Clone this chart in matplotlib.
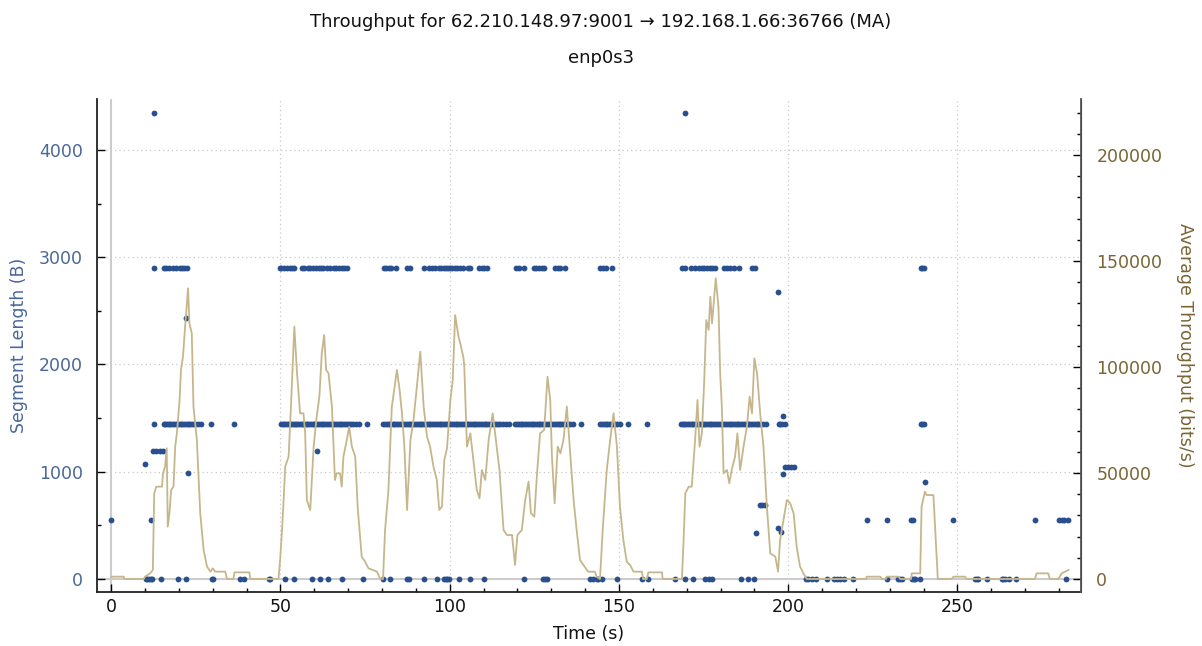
import matplotlib
matplotlib.use("Agg")
import matplotlib.pyplot as plt
from matplotlib.ticker import MultipleLocator

plt.rcParams['font.family'] = ['DejaVu Sans']

# ---------------- data ----------------
title = "Throughput for 62.210.148.97:9001 \u2192 192.168.1.66:36766 (MA)"
subtitle = "enp0s3"

# segment length points (time in s)
seg0_t = [10.2, 10.7, 11.2, 11.7, 12.1, 14.6, 19.7, 22.0, 29.7, 30.2, 38.1, 39.1,
          46.5, 46.9, 51.4, 53.9, 59.3, 61.8, 64.0, 68.1, 74.3, 80.4, 82.4, 87.3,
          88.1, 92.3, 96.2, 98.2, 98.8, 99.2, 99.9, 102.6, 106.0, 110.0, 121.8,
          127.7, 128.2, 128.6, 141.4, 142.4, 143.4, 143.9, 144.9, 149.4, 156.8,
          158.7, 166.6, 169.4, 172.0, 175.3, 176.7, 177.4, 186.1, 188.1, 190.0,
          205.2, 205.9, 206.9, 208.2, 211.4, 213.4, 214.4, 215.4, 216.4, 219.2,
          229.2, 232.3, 233.1, 233.6, 236.7, 237.1, 237.5, 238.8, 255.2, 255.7,
          256.2, 258.7, 263.1, 263.6, 264.1, 265.1, 267.2, 282.0]

seg1448_t = [12.7, 15.5, 16.0, 16.6, 17.1, 17.5, 18.0, 18.6, 19.0, 19.5, 20.1, 20.6,
             21.0, 21.5, 22.1, 22.6, 23.0, 23.6, 24.1, 24.8, 25.6, 26.4, 29.4, 36.3,
             50.2, 50.7, 51.1, 51.6, 52.2, 52.7, 53.1, 53.6, 54.2, 54.7, 55.2, 55.8,
             56.3, 56.8, 57.4, 57.9, 58.4, 58.9, 59.5, 60.0, 60.6, 61.1, 61.6, 62.2,
             62.7, 63.2, 63.8, 64.3, 64.8, 65.4, 65.9, 66.4, 67.0, 67.5, 68.0, 68.6,
             69.1, 69.6, 70.2, 70.7, 71.4, 72.3, 73.1, 75.6,
             80.4, 80.9, 81.5, 82.0, 82.5, 83.1, 83.6, 84.1, 84.7, 85.2, 85.8, 86.3,
             86.8, 87.4, 87.9, 88.4, 89.0, 89.5, 90.0, 90.6, 91.1, 91.6, 92.2, 92.7,
             93.2, 93.8, 94.3, 94.8, 95.4, 95.9, 96.4, 97.0, 97.5, 98.0, 98.6, 99.1,
             99.6, 100.2, 100.7, 101.2, 101.8, 102.3, 102.8, 103.4, 103.9, 104.4,
             105.0, 105.5, 106.0, 106.6, 107.1, 107.6, 108.2, 108.7, 109.2, 109.8,
             110.3, 110.8, 111.4, 111.9, 112.4, 113.0, 113.6, 114.3, 115.0, 115.8,
             116.7, 117.6,
             119.4, 119.9, 120.4, 121.0, 121.5, 122.0, 122.6, 123.1, 123.6, 124.2,
             124.7, 125.2, 125.8, 126.3, 126.8, 127.4, 127.9, 128.4, 129.0, 129.5,
             130.0, 130.6, 131.1, 131.6, 132.2, 132.7, 133.2, 133.8, 134.3, 134.8,
             135.6, 136.5, 138.9,
             144.5, 145.0, 145.5, 146.1, 146.6, 147.1, 147.7, 148.2, 148.8, 149.5,
             150.3, 152.8, 158.3,
             168.3, 168.8, 169.3, 169.9, 170.4, 170.9, 171.5, 172.0, 172.5, 173.1,
             173.6, 174.1, 174.7, 175.2, 175.7, 176.3, 176.8, 177.3, 177.9, 178.4,
             178.9, 179.5, 180.0, 180.5, 181.1, 181.6, 182.1, 182.7, 183.2, 183.7,
             184.3, 184.8, 185.3, 185.9, 186.4, 186.9, 187.5, 188.0, 188.5, 189.1,
             189.6, 190.1, 190.7, 191.2, 191.8, 192.5, 193.5,
             197.2, 197.7, 198.3, 199.0, 239.2, 239.6, 240.0]

seg2896_t = [12.5, 15.5, 16.2, 17.2, 18.2, 19.2, 20.2, 20.9, 21.6, 22.4,
             49.8, 50.3, 50.9, 51.9, 52.7, 53.4, 54.1, 56.3, 57.1, 58.0, 58.8,
             59.6, 60.6, 61.5, 62.0, 62.7, 63.7, 64.7, 65.7, 66.5, 67.4, 68.2,
             68.8, 69.6, 80.5, 81.2, 82.0, 82.7, 84.2, 87.4, 88.4, 92.3, 94.0,
             94.7, 95.7, 96.7, 97.5, 98.2, 98.9, 99.6, 100.1, 100.6, 101.6, 102.3,
             103.1, 103.9, 105.3, 106.1, 108.8, 109.5, 110.2, 111.0, 119.6, 120.6,
             121.8, 124.8, 125.6, 126.3, 127.2, 127.9, 131.1, 131.9, 132.7, 134.1,
             144.3, 145.3, 146.3, 147.9, 168.6, 169.6, 171.3, 172.5, 173.5, 174.5,
             175.2, 176.0, 176.8, 177.4, 178.4, 180.9, 181.9, 182.9, 183.9, 185.4,
             189.3, 190.3, 239.2, 239.6, 240.0]

seg4344_t = [12.5, 169.4]

other_t = [0.0, 10.0, 11.7, 12.3, 13.3, 14.4, 15.4, 22.1, 22.6, 60.7, 190.4,
           191.7, 192.4, 193.2, 196.9, 197.1, 197.8, 198.6, 198.6, 199.1, 199.9,
           200.7, 201.6, 223.2, 229.1, 236.2, 236.8, 240.3, 248.6, 272.9, 280.1,
           280.8, 281.6, 282.7]
other_len = [550, 1068, 550, 1190, 1190, 1190, 1190, 2430, 985, 1190, 430,
             690, 690, 690, 2680, 480, 440, 1520, 980, 1040, 1040,
             1040, 1040, 550, 550, 550, 550, 900, 550, 550, 550,
             550, 550, 550]

# moving-average throughput (bits/s)
tp_t = [0, 3.7, 3.8, 9.6, 10.0, 11.5, 12.3, 12.7, 13.3, 15.0, 15.3, 15.9, 16.4,
        16.7, 17.2, 17.7, 18.4, 18.9, 19.4, 20.2, 20.6, 21.2, 21.9, 22.7, 23.1,
        23.8, 24.3, 25.3, 26.3, 27.3, 28.3, 29.3, 30.0, 30.7, 33.7, 34.2, 36.1,
        36.4, 40.8, 41.1, 49.4, 49.9, 50.4, 50.9, 51.4, 52.4, 53.1, 54.1, 54.9,
        55.8, 56.8, 57.3, 57.8, 58.8, 59.8, 60.7, 61.5, 62.2, 62.9, 63.5, 64.2,
        65.2, 66.1, 66.6, 67.6, 68.1, 68.6, 69.6, 70.3, 71.1, 72.1, 72.8, 74.0,
        75.0, 76.0, 78.5, 79.5, 80.3, 80.9, 81.9, 82.9, 83.6, 84.4, 85.2, 85.9,
        86.6, 87.4, 88.4, 89.3, 90.1, 91.3, 92.3, 93.3, 94.2, 95.2, 96.2, 96.9,
        97.7, 98.4, 99.2, 100.2, 100.9, 101.6, 102.6, 103.3, 104.1, 104.3, 105.1,
        106.1, 107.0, 108.0, 108.8, 109.5, 110.5, 111.5, 112.7, 113.4, 114.7,
        115.9, 116.9, 118.4, 119.3, 120.0, 121.3, 122.3, 123.3, 124.0, 125.0,
        125.8, 126.7, 127.9, 128.9, 129.7, 130.2, 131.0, 131.9, 132.7, 133.6,
        134.6, 135.6, 136.6, 137.5, 138.5, 139.5, 140.9, 142.9, 143.4, 144.4,
        145.2, 146.4, 147.4, 148.4, 149.4, 150.3, 151.3, 152.3, 153.3, 154.3,
        156.8, 157.1, 158.2, 158.7, 162.7, 162.9, 168.6, 169.1, 169.6, 170.6,
        171.5, 172.5, 173.2, 173.8, 174.5, 175.2, 175.8, 176.5, 177.0, 177.5,
        178.0, 178.6, 179.4, 179.9, 180.4, 180.9, 181.9, 182.6, 183.3, 184.3,
        185.0, 185.8, 186.8, 187.8, 188.6, 189.3, 190.0, 190.8, 191.8, 192.7,
        193.7, 194.7, 196.2, 197.0, 197.6, 198.6, 199.6, 200.6, 201.6, 202.5,
        203.5, 204.5, 205.5, 223.0, 223.2, 227.2, 227.7, 228.9, 229.1, 232.6,
        233.1, 236.3, 236.5, 239.0, 239.4, 240.4, 240.9, 242.9, 244.2, 248.3,
        248.8, 252.2, 252.7, 272.9, 273.4, 276.8, 277.3, 279.8, 280.8, 281.8,
        282.8]
tp_v = [1100, 1100, 0, 0, 1100, 2670, 4250, 40400, 43550, 43550, 49850, 52990,
        61640, 24690, 30970, 41980, 43550, 62430, 68710, 84430, 98590, 104870,
        120600, 137100, 120600, 115880, 81290, 65570, 30970, 13680, 5820, 3460,
        5030, 3460, 3460, 0, 0, 3140, 3140, 0, 0, 8960, 21540, 36000, 52990,
        57700, 81290, 119030, 97010, 78140, 78140, 68710, 37260, 32550, 62430,
        76580, 86020, 106440, 115100, 98590, 97010, 81290, 46700, 49850, 49850,
        43550, 57700, 65570, 71850, 62430, 57700, 34120, 10530, 8180, 5030, 3460,
        0, 0, 23110, 41980, 81290, 89150, 98590, 89150, 78140, 62430, 32550,
        65570, 75000, 87600, 107230, 81290, 67140, 62430, 52990, 46700, 32550,
        34120, 56130, 61640, 84430, 93870, 124530, 114330, 110000, 104000,
        100160, 62430, 68710, 56130, 41980, 38040, 51420, 46700, 65570, 78140,
        68710, 51420, 23110, 20750, 20750, 6600, 20750, 23110, 37260, 45920,
        30970, 29400, 49850, 68710, 70280, 95440, 84430, 57700, 35690, 62430,
        59270, 65570, 81290, 59270, 37260, 23110, 8960, 6600, 3460, 3460, 1100,
        0, 23110, 51420, 65570, 78140, 62430, 34120, 18400, 8180, 6600, 3460,
        3460, 0, 0, 3140, 3140, 0, 0, 18400, 40400, 43550, 43550, 65570, 84430,
        62430, 68710, 93870, 122170, 117450, 133180, 120600, 130040, 141830,
        128470, 97010, 81290, 49850, 51420, 45130, 51420, 57700, 68710, 51420,
        62430, 71850, 86020, 78140, 104090, 97010, 76580, 62430, 34120, 12110,
        10530, 3460, 18400, 27830, 37260, 35690, 30970, 15250, 5820, 2670, 0, 0,
        1100, 1100, 0, 0, 1100, 1100, 0, 0, 2670, 2670, 34120, 41200, 39600,
        39600, 0, 0, 1100, 1100, 0, 0, 2670, 2670, 0, 0, 2670, 3460, 4250]

# ---------------- styling ----------------
BLUE_PT = '#2a4f8e'
BLUE_TXT = '#4a6898'
BROWN_TXT = '#7a6433'
LINE_C = '#c6b68b'
FS = 12.5

fig = plt.figure(figsize=(12.02, 6.46), dpi=100)
ax = fig.add_axes([97 / 1202, 54 / 646, 984 / 1202, 493 / 646])
ax2 = ax.twinx()

ax.set_xlim(-4.2, 286.5)
ax.set_ylim(-121, 4475)
ax2.set_ylim(-6132, 226415)

# zero lines
ax.axhline(0, color='#cccccc', lw=1.5, zorder=1)
ax.axvline(0, color='#cccccc', lw=1.5, zorder=1)

# ticks / grid
ax.xaxis.set_major_locator(MultipleLocator(50))
ax.xaxis.set_minor_locator(MultipleLocator(10))
ax.yaxis.set_major_locator(MultipleLocator(1000))
ax.yaxis.set_minor_locator(MultipleLocator(500))
ax2.yaxis.set_major_locator(MultipleLocator(50000))
ax2.yaxis.set_minor_locator(MultipleLocator(10000))
for v in [50, 100, 150, 200, 250]:
    ax.axvline(v, color='#c8c8c8', lw=0.9, ls=(0, (1, 2.5)), zorder=0)
for v in [1000, 2000, 3000, 4000]:
    ax.axhline(v, color='#c8c8c8', lw=0.9, ls=(0, (1, 2.5)), zorder=0)

ms = 4.2
ax.plot(seg0_t, [0] * len(seg0_t), 'o', color=BLUE_PT, ms=ms, mew=0, zorder=3)
ax.plot(seg1448_t, [1448] * len(seg1448_t), 'o', color=BLUE_PT, ms=ms, mew=0, zorder=3)
ax.plot(seg2896_t, [2896] * len(seg2896_t), 'o', color=BLUE_PT, ms=ms, mew=0, zorder=3)
ax.plot(seg4344_t, [4344] * len(seg4344_t), 'o', color=BLUE_PT, ms=ms, mew=0, zorder=3)
ax.plot(other_t, other_len, 'o', color=BLUE_PT, ms=ms, mew=0, zorder=3)

ax2.plot(tp_t, tp_v, color=LINE_C, lw=1.3, zorder=4)

# spines and ticks
for a in (ax, ax2):
    a.spines['top'].set_visible(False)
ax.spines['left'].set_color('#222222')
ax.spines['bottom'].set_color('#222222')
ax2.spines['right'].set_color('#555555')
ax2.spines['left'].set_visible(False)
ax2.spines['bottom'].set_visible(False)
for sp in ('left', 'bottom'):
    ax.spines[sp].set_linewidth(1.3)
ax2.spines['right'].set_linewidth(1.3)

ax.tick_params(axis='both', which='major', direction='in', length=6, width=1)
ax.tick_params(axis='both', which='minor', direction='in', length=3, width=1)
ax.tick_params(axis='y', which='major', pad=10, labelsize=FS, labelcolor=BLUE_TXT)
ax.tick_params(axis='x', which='major', pad=4, labelsize=FS, labelcolor='#111111')
ax2.tick_params(axis='y', which='major', direction='in', length=6, width=1,
                pad=11, labelsize=FS, labelcolor=BROWN_TXT)
ax2.tick_params(axis='y', which='minor', direction='in', length=3, width=1)

ax.set_xlabel('Time (s)', fontsize=FS, color='#111111', labelpad=7)
ax.set_ylabel('Segment Length (B)', fontsize=FS, color=BLUE_TXT, labelpad=8)
ax2.set_ylabel('Average Throughput (bits/s)', fontsize=FS, color=BROWN_TXT,
               rotation=270, labelpad=23)

fig.text(0.5, 1 - 22 / 646, title, ha='center', va='center', fontsize=13, color='#111111')
fig.text(0.5, 1 - 58 / 646, subtitle, ha='center', va='center', fontsize=13, color='#111111')

fig.savefig('out.png', dpi=100)
